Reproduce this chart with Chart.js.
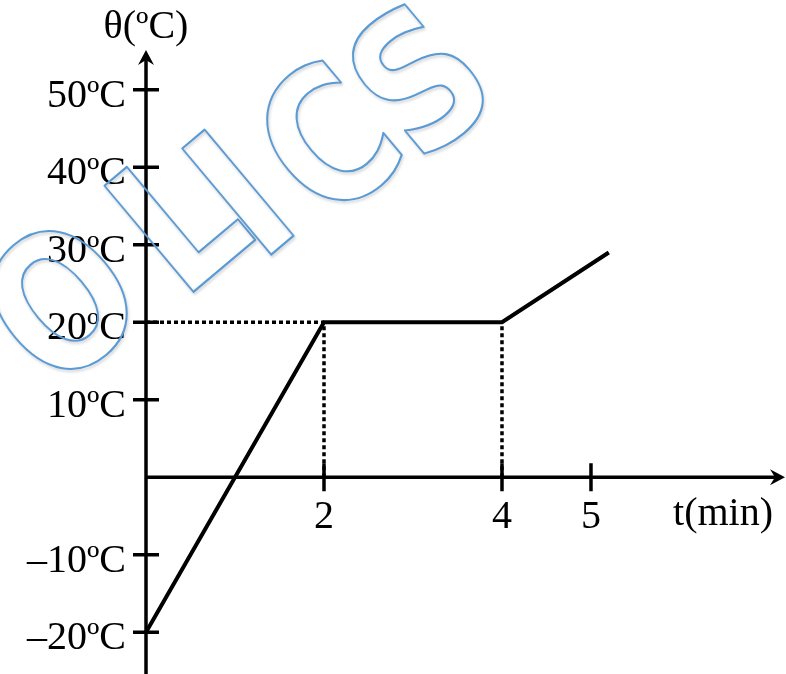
<!DOCTYPE html>
<html>
<head>
<meta charset="utf-8">
<script src="https://cdn.jsdelivr.net/npm/chart.js@4"></script>
<style>
  html, body { margin: 0; padding: 0; background: #fff; }
  #box { width: 786px; height: 674px; }
</style>
</head>
<body>
<div id="box"><canvas id="heatChart"></canvas></div>
<script>
// heating curve: time (min) vs temperature (ºC)
const times = [0, 2, 4, 5.2];
const temps = [-20, 20, 20, 29];

const xTicks = [2, 4, 5];
const yTicks = [50, 40, 30, 20, 10, -10, -20];

const xTitle = 't(min)';
const yTitle = 'θ(ºC)';

// watermark letters: char, centre x, centre y
const markLetters = [
  ['O', 60, 300],
  ['L', 176, 216],
  ['I', 238, 192],
  ['C', 326, 138],
  ['S', 418, 78]
];
const markSize = 190;

const serif = '40px "Liberation Serif", "Times New Roman", serif';

function yLabel(v) {
  return (v < 0 ? '\u2013' + Math.abs(v) : String(v)) + 'ºC';
}

// plateau guides (dotted) taken from the flat part of the curve
const plateau = temps[1];
const guideData = [
  [{ x: 0, y: plateau }, { x: times[1], y: plateau }],
  [{ x: times[1], y: 0 }, { x: times[1], y: plateau }],
  [{ x: times[2], y: 0 }, { x: times[2], y: temps[2] }]
];

const axesPlugin = {
  id: 'axes',
  beforeDatasetsDraw(chart) {
    const ctx = chart.ctx;
    const xs = chart.scales.x;
    const ys = chart.scales.y;
    const area = chart.chartArea;
    const ox = xs.getPixelForValue(0);
    const oy = ys.getPixelForValue(0);

    ctx.save();
    ctx.strokeStyle = '#000';
    ctx.fillStyle = '#000';
    ctx.lineWidth = 3.5;

    // vertical axis + arrow
    ctx.beginPath();
    ctx.moveTo(ox, chart.height);
    ctx.lineTo(ox, area.top + 8);
    ctx.stroke();
    ctx.beginPath();
    ctx.moveTo(ox, area.top - 1);
    ctx.lineTo(ox - 8, area.top + 14);
    ctx.lineTo(ox, area.top + 9);
    ctx.lineTo(ox + 8, area.top + 14);
    ctx.closePath();
    ctx.fill();

    // horizontal axis + arrow
    ctx.beginPath();
    ctx.moveTo(ox, oy);
    ctx.lineTo(area.right - 8, oy);
    ctx.stroke();
    ctx.beginPath();
    ctx.moveTo(area.right, oy);
    ctx.lineTo(area.right - 15, oy - 8);
    ctx.lineTo(area.right - 10, oy);
    ctx.lineTo(area.right - 15, oy + 8);
    ctx.closePath();
    ctx.fill();

    // tick marks
    ctx.beginPath();
    yTicks.forEach(v => {
      const py = ys.getPixelForValue(v);
      ctx.moveTo(ox - 13, py);
      ctx.lineTo(ox + 13, py);
    });
    xTicks.forEach(v => {
      const px = xs.getPixelForValue(v);
      ctx.moveTo(px, oy - 14);
      ctx.lineTo(px, oy + 14);
    });
    ctx.stroke();

    // labels
    ctx.font = serif;
    ctx.textBaseline = 'alphabetic';
    ctx.textAlign = 'right';
    yTicks.forEach(v => {
      ctx.fillText(yLabel(v), ox - 20, ys.getPixelForValue(v) + 17);
    });
    ctx.textAlign = 'center';
    xTicks.forEach(v => {
      ctx.fillText(String(v), xs.getPixelForValue(v), oy + 51);
    });
    ctx.textAlign = 'right';
    ctx.fillText(xTitle, area.right - 12, oy + 48);
    ctx.textAlign = 'center';
    ctx.fillText(yTitle, ox, area.top - 13);
    ctx.restore();
  },
  afterDraw(chart) {
    // outlined watermark on top
    const ctx = chart.ctx;
    ctx.save();
    ctx.font = 'bold ' + markSize + 'px "DejaVu Sans"';
    ctx.textAlign = 'center';
    ctx.textBaseline = 'alphabetic';
    ctx.lineJoin = 'round';
    ctx.strokeStyle = '#5b9bd5';
    ctx.shadowColor = 'rgba(0,0,0,0.2)';
    ctx.shadowBlur = 3;
    ctx.shadowOffsetX = 1;
    ctx.shadowOffsetY = 2;
    markLetters.forEach(([ch, x, y]) => {
      ctx.save();
      ctx.translate(x, y);
      ctx.rotate(-40 * Math.PI / 180);
      ctx.scale(0.82, 1);
      ctx.lineWidth = 2.2;
      ctx.strokeText(ch, 0, markSize * 0.729 / 2);
      ctx.restore();
    });
    ctx.restore();
  }
};

const datasets = guideData.map(pts => ({
  data: pts,
  borderColor: '#000',
  borderWidth: 3.5,
  borderDash: [4, 3],
  pointRadius: 0,
  fill: false
}));
datasets.push({
  label: 'θ',
  data: times.map((t, i) => ({ x: t, y: temps[i] })),
  borderColor: '#000',
  borderWidth: 4,
  pointRadius: 0,
  tension: 0,
  fill: false
});

new Chart(document.getElementById('heatChart'), {
  type: 'line',
  data: { datasets: datasets },
  options: {
    responsive: true,
    maintainAspectRatio: false,
    animation: false,
    clip: false,
    layout: { padding: { left: 146, right: 1, top: 51, bottom: 3 } },
    plugins: { legend: { display: false }, tooltip: { enabled: false } },
    scales: {
      x: { type: 'linear', min: 0, max: 7.18, display: false },
      y: { type: 'linear', min: -25, max: 55, display: false }
    }
  },
  plugins: [axesPlugin]
});
</script>
</body>
</html>
